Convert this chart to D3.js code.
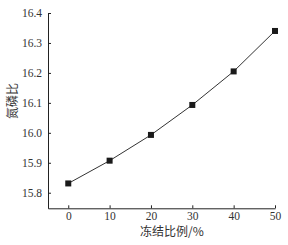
<!DOCTYPE html>
<html>
<head>
<meta charset="utf-8">
<script src="https://cdn.jsdelivr.net/npm/d3@7"></script>
<style>
  body { margin: 0; background: #fff; }
  svg text { font-family: "Liberation Serif", "Times New Roman", serif; fill: #333; }
  .cjk { font-family: "Noto Sans CJK SC", "Liberation Serif", serif; }
</style>
</head>
<body>
<svg id="chart"></svg>
<script>
// freezing ratio (%) vs N:P ratio
const freezeRatio = [0, 10, 20, 30, 40, 50];
const npRatio = [15.831, 15.907, 15.993, 16.093, 16.205, 16.340];
const xTicks = [0, 10, 20, 30, 40, 50];
const yTicks = [15.8, 15.9, 16.0, 16.1, 16.2, 16.3, 16.4];
const xTitle = '冻结比例/%';
const yTitle = '氮磷比';

const width = 288;
const height = 245;
const margin = { top: 13, right: 13, bottom: 37, left: 48 };

const svg = d3.select('#chart')
    .attr('width', width)
    .attr('height', height);

const x = d3.scaleLinear()
    .domain([-4.9, 50])
    .range([margin.left, width - margin.right]);

const y = d3.scaleLinear()
    .domain([15.748, 16.4])
    .range([height - margin.bottom + 0.3, margin.top]);

// x axis, ticks pointing up
const xAxis = svg.append('g')
    .attr('transform', `translate(0,${y(15.748)})`)
    .call(d3.axisBottom(x).tickValues(xTicks).tickSizeInner(-3).tickSizeOuter(0).tickPadding(4));

// y axis, ticks pointing right
const yAxis = svg.append('g')
    .attr('transform', `translate(${margin.left},0)`)
    .call(d3.axisLeft(y).tickValues(yTicks).tickFormat(d3.format('.1f')).tickSizeInner(-3).tickSizeOuter(0).tickPadding(6));

[xAxis, yAxis].forEach(g => {
    g.select('.domain').attr('stroke', '#222').attr('stroke-width', 1);
    g.selectAll('.tick line').attr('stroke', '#222');
    g.selectAll('.tick text')
        .style('font-family', '"Liberation Serif", serif')
        .style('font-size', '11.5px')
        .attr('fill', '#333');
});

const line = d3.line()
    .x((d, i) => x(freezeRatio[i]))
    .y(d => y(d));

svg.append('path')
    .datum(npRatio)
    .attr('d', line)
    .attr('fill', 'none')
    .attr('stroke', '#333')
    .attr('stroke-width', 1);

svg.selectAll('rect.pt')
    .data(npRatio)
    .join('rect')
    .attr('class', 'pt')
    .attr('x', (d, i) => x(freezeRatio[i]) - 3)
    .attr('y', d => y(d) - 3)
    .attr('width', 6)
    .attr('height', 6)
    .attr('fill', '#1a1a1a');

svg.append('text')
    .attr('class', 'cjk')
    .attr('x', 172)
    .attr('y', 236)
    .attr('text-anchor', 'middle')
    .style('font-size', '12px')
    .text(xTitle);

svg.append('text')
    .attr('class', 'cjk')
    .attr('transform', 'translate(17,101) rotate(-90)')
    .attr('text-anchor', 'middle')
    .style('font-size', '12px')
    .text(yTitle);
</script>
</body>
</html>
